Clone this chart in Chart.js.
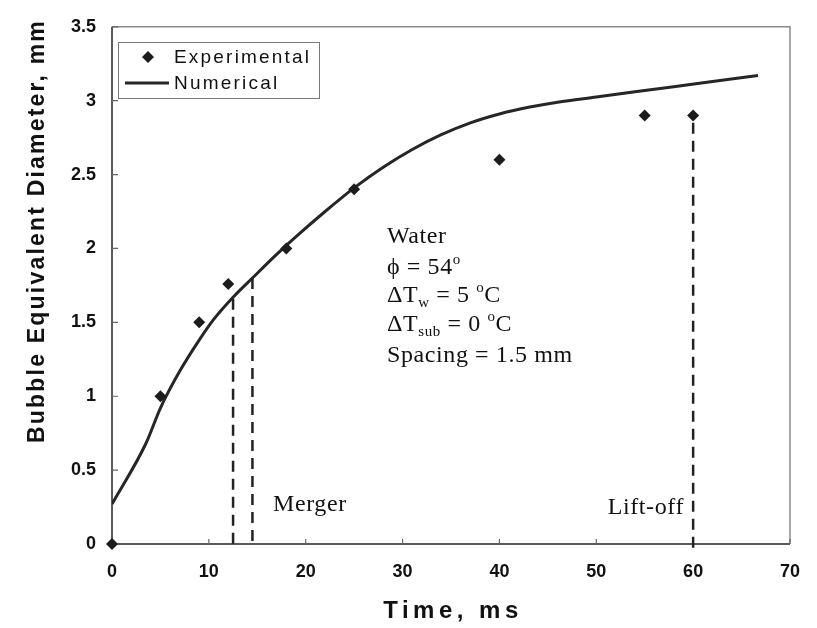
<!DOCTYPE html>
<html>
<head>
<meta charset="utf-8">
<script src="https://cdn.jsdelivr.net/npm/chart.js@4.4.0/dist/chart.umd.min.js"></script>
<style>
  body { margin: 0; background: #fff; }
  #wrap { width: 817px; height: 628px; }
</style>
</head>
<body>
<div id="wrap"><canvas id="bubble" width="817" height="628"></canvas></div>
<script>
// experimental points
const expTime = [0, 5, 9, 12, 18, 25, 40, 55, 60];
const expDiam = [0, 1.0, 1.5, 1.76, 2.0, 2.4, 2.6, 2.9, 2.9];

// numerical curve
const numTime = [0, 3.5, 5, 7, 9, 10.5, 12.5, 14.5, 17, 19, 22, 25, 28, 31, 34, 37, 40, 43, 46, 50, 54, 58, 62, 66.7];
const numDiam = [0.27, 0.68, 0.92, 1.17, 1.38, 1.52, 1.67, 1.80, 1.96, 2.08, 2.25, 2.41, 2.55, 2.67, 2.77, 2.85, 2.91, 2.955, 2.99, 3.025, 3.06, 3.095, 3.13, 3.17];

// dashed markers
const mergerTime = [12.5, 14.5];
const mergerTop = [1.66, 1.80];
const liftoffTime = 60;
const liftoffTop = 2.85;

const xTicks = [0, 10, 20, 30, 40, 50, 60, 70];
const yTicks = [0, 0.5, 1, 1.5, 2, 2.5, 3, 3.5];

const SANS = '"Liberation Sans", Arial, sans-serif';
const SERIF = '"Liberation Serif", "Times New Roman", serif';

function pts(xs, ys) {
  return xs.map((x, i) => ({ x: x, y: ys[i] }));
}

const dashStyle = {
  type: 'line', showLine: true, pointRadius: 0, borderColor: '#222',
  borderWidth: 2.5, borderDash: [11, 7], fill: false, clip: false
};

var datasets = [
  {
    label: 'Experimental', type: 'scatter', data: pts(expTime, expDiam),
    pointStyle: 'rectRot', pointRadius: 6, backgroundColor: '#1c1c1c',
    borderColor: '#1c1c1c', borderWidth: 0, clip: false, order: 0
  },
  {
    label: 'Numerical', type: 'line', data: pts(numTime, numDiam),
    showLine: true, pointRadius: 0, borderColor: '#262626', borderWidth: 3,
    cubicInterpolationMode: 'monotone', fill: false, order: 1
  }
];
mergerTime.forEach((t, i) => {
  datasets.push(Object.assign({ label: 'merger' + i, data: [{ x: t, y: mergerTop[i] }, { x: t, y: 0 }] }, dashStyle));
});
datasets.push(Object.assign({ label: 'liftoff', data: [{ x: liftoffTime, y: liftoffTop }, { x: liftoffTime, y: -0.06 }] }, dashStyle));

function drawRuns(ctx, x, y, runs) {
  runs.forEach(r => {
    ctx.font = (r.size || 24) + 'px ' + SERIF;
    ctx.fillText(r.t, x, y + (r.dy || 0));
    x += ctx.measureText(r.t).width;
  });
}

const decorPlugin = {
  id: 'decor',
  beforeDatasetsDraw(chart) {
    const ctx = chart.ctx;
    const a = chart.chartArea;
    const xs = chart.scales.x, ys = chart.scales.y;
    ctx.save();
    // frame
    ctx.strokeStyle = '#8a8a8a';
    ctx.lineWidth = 1.5;
    ctx.beginPath();
    ctx.moveTo(a.left, a.top); ctx.lineTo(a.right, a.top); ctx.lineTo(a.right, a.bottom);
    ctx.stroke();
    ctx.strokeStyle = '#5a5a5a';
    ctx.lineWidth = 2;
    ctx.beginPath();
    ctx.moveTo(a.left, a.top); ctx.lineTo(a.left, a.bottom); ctx.lineTo(a.right, a.bottom);
    ctx.stroke();
    // inner ticks
    ctx.lineWidth = 1.2;
    ctx.strokeStyle = '#666';
    ctx.beginPath();
    yTicks.forEach(v => {
      const py = ys.getPixelForValue(v);
      ctx.moveTo(a.left, py); ctx.lineTo(a.left + 6, py);
    });
    xTicks.forEach(v => {
      const px = xs.getPixelForValue(v);
      ctx.moveTo(px, a.bottom); ctx.lineTo(px, a.bottom - 5);
    });
    ctx.stroke();
    ctx.restore();
  },
  afterDraw(chart) {
    const ctx = chart.ctx;
    const a = chart.chartArea;
    ctx.save();
    ctx.fillStyle = '#111';

    // axis titles
    ctx.font = 'bold 23px ' + SANS;
    ctx.letterSpacing = '2.2px';
    ctx.textAlign = 'center';
    ctx.textBaseline = 'middle';
    ctx.save();
    ctx.translate(38, 231);
    ctx.rotate(-Math.PI / 2);
    ctx.fillText('Bubble Equivalent Diameter, mm', 0, 0);
    ctx.restore();
    ctx.font = 'bold 24px ' + SANS;
    ctx.letterSpacing = '4.5px';
    ctx.fillText('Time, ms', (a.left + a.right) / 2 + 2, 611);

    // legend
    ctx.letterSpacing = '2.2px';
    ctx.strokeStyle = '#777';
    ctx.lineWidth = 1;
    ctx.strokeRect(118.5, 42.5, 201, 56);
    ctx.font = '19px ' + SANS;
    ctx.textAlign = 'left';
    const ds = chart.data.datasets;
    ctx.beginPath();
    ctx.moveTo(148, 51); ctx.lineTo(154, 57); ctx.lineTo(148, 63); ctx.lineTo(142, 57);
    ctx.closePath();
    ctx.fillStyle = ds[0].backgroundColor;
    ctx.fill();
    ctx.fillStyle = '#111';
    ctx.fillText(ds[0].label, 174, 58);
    ctx.strokeStyle = ds[1].borderColor;
    ctx.lineWidth = 3;
    ctx.beginPath();
    ctx.moveTo(125, 83); ctx.lineTo(169, 83);
    ctx.stroke();
    ctx.fillText(ds[1].label, 174, 84);

    // annotations
    ctx.letterSpacing = '0.6px';
    ctx.textBaseline = 'alphabetic';
    const tx = 387;
    drawRuns(ctx, tx, 243, [{ t: 'Water' }]);
    drawRuns(ctx, tx, 274, [{ t: 'ϕ = 54' }, { t: 'o', size: 15, dy: -10 }]);
    drawRuns(ctx, tx, 302, [{ t: 'ΔT' }, { t: 'w', size: 15, dy: 5 }, { t: ' = 5 ' }, { t: 'o', size: 15, dy: -10 }, { t: 'C' }]);
    drawRuns(ctx, tx, 331, [{ t: 'ΔT' }, { t: 'sub', size: 15, dy: 5 }, { t: ' = 0 ' }, { t: 'o', size: 15, dy: -10 }, { t: 'C' }]);
    drawRuns(ctx, tx, 362, [{ t: 'Spacing = 1.5 mm' }]);

    ctx.textBaseline = 'middle';
    drawRuns(ctx, 273, 505, [{ t: 'Merger' }]);
    ctx.font = '24px ' + SERIF;
    ctx.textAlign = 'right';
    ctx.fillText('Lift-off', 684, 508);
    ctx.restore();
  }
};

const config = {
  data: { datasets: datasets },
  options: {
    responsive: false,
    animation: false,
    layout: { padding: { left: 0, top: 17, right: 11, bottom: 0 } },
    plugins: { legend: { display: false }, tooltip: { enabled: false } },
    scales: {
      x: {
        type: 'linear', min: 0, max: 70,
        grid: { display: false, drawTicks: false },
        border: { display: false },
        ticks: { stepSize: 10, padding: 17, color: '#111', font: { family: SANS, size: 18, weight: 'bold' } },
        afterFit: function (s) { s.height = 84; }
      },
      y: {
        type: 'linear', min: 0, max: 3.5,
        grid: { display: false, drawTicks: false },
        border: { display: false },
        ticks: {
          stepSize: 0.5, padding: 16, color: '#111', font: { family: SANS, size: 18, weight: 'bold' },
          callback: function (v) { return String(v); }
        },
        afterFit: function (s) { s.width = 112; }
      }
    }
  },
  plugins: [decorPlugin]
};

const bubbleChart = new Chart(document.getElementById('bubble'), config);
</script>
</body>
</html>
